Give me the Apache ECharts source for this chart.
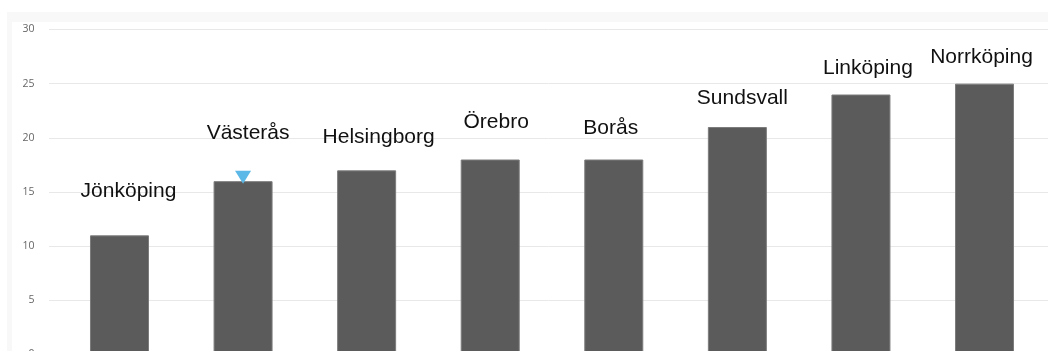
<!DOCTYPE html>
<html>
<head>
<meta charset="utf-8">
<script src="https://cdn.jsdelivr.net/npm/echarts@6/dist/echarts.min.js"></script>
<style>
html,body{margin:0;padding:0;background:#fff;overflow:hidden;}
#chart{width:1048px;height:362px;}
</style>
</head>
<body>
<div id="chart"></div>
<script>
// ---- data ----
const categories = ['Jönköping','Västerås','Helsingborg','Örebro','Borås','Sundsvall','Linköping','Norrköping'];
const values = [11, 16, 17, 18, 18, 21, 24, 25];
const yTicks = [0, 5, 10, 15, 20, 25, 30];
const markedCategory = 'Västerås';

// ---- layout (label nudges, px) ----
const labelNudge = [[9,-29],[5,-32],[12,-18],[6,-22],[-3,-16],[5,-13],[7,-11],[-3,-11]];

const chart = echarts.init(document.getElementById('chart'));
const gridTop = 29.5, gridHeight = 325;
const option = {
  animation: false,
  graphic: [
    {type:'rect', shape:{x:7,y:12,width:1100,height:400}, style:{fill:'#f8f8f8'}, silent:true, z:-10},
    {type:'rect', shape:{x:12,y:22,width:1100,height:400}, style:{fill:'#ffffff'}, silent:true, z:-9}
  ],
  grid: [
    {left:49, right:0, top:gridTop, height:gridHeight, containLabel:false},
    {left:57.7, width:988.6, top:gridTop, height:gridHeight, containLabel:false}
  ],
  xAxis: [
    {type:'category', gridIndex:0, data:categories, show:false},
    {type:'category', gridIndex:1, data:categories, show:false}
  ],
  yAxis: [
    {type:'value', gridIndex:0, min:yTicks[0], max:yTicks[yTicks.length-1], interval:5,
     axisLine:{show:false}, axisTick:{show:false},
     axisLabel:{color:'#666666', fontSize:10.5, fontFamily:'Open Sans', margin:14.5},
     splitLine:{lineStyle:{color:'#e8e8e8', width:1}}},
    {type:'value', gridIndex:1, min:yTicks[0], max:yTicks[yTicks.length-1], interval:5, show:false, splitLine:{show:false}}
  ],
  series: [{
    type:'bar',
    xAxisIndex:1, yAxisIndex:1,
    barWidth:59,
    data: values.map((v,i)=>({
      value:v,
      label:{offset:labelNudge[i]}
    })),
    itemStyle:{color:'#5b5b5b', borderColor:'#7c7c7c', borderWidth:1},
    label:{
      show:true, position:'top', distance:5,
      formatter: p => categories[p.dataIndex],
      color:'#111', fontSize:21, fontFamily:'Liberation Sans'
    },
    markPoint:{
      symbol:'triangle', symbolRotate:180, symbolSize:[16,13], symbolOffset:[0,-4],
      itemStyle:{color:'#5cb8e6'},
      label:{show:false},
      data:[{coord:[markedCategory, values[categories.indexOf(markedCategory)]]}]
    }
  }]
};
chart.setOption(option);
</script>
</body>
</html>
